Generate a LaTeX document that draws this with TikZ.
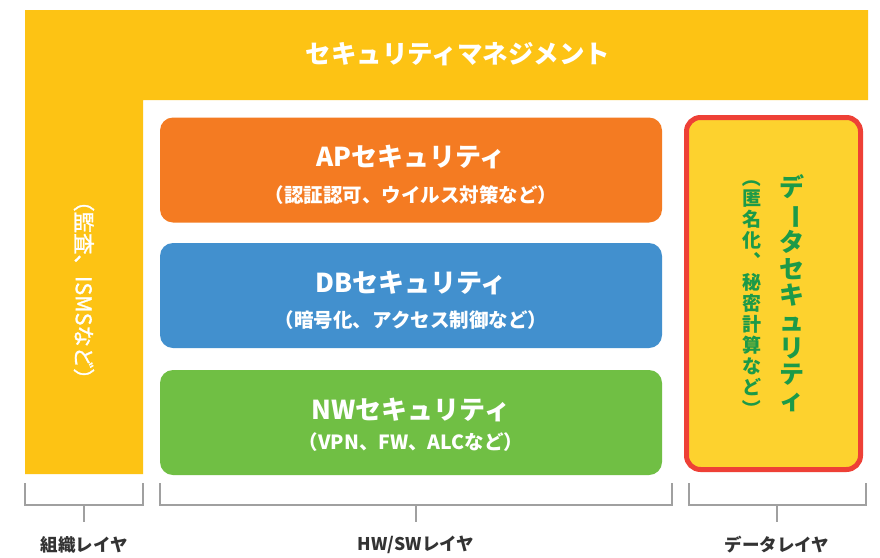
\documentclass[tikz,border=0pt]{standalone}
\usepackage{fontspec}
\usepackage{graphicx}
\setmainfont{Noto Sans CJK JP}
\newfontfamily\jpmed[FakeBold=1.3]{Noto Sans CJK JP}
\definecolor{lyellow}{HTML}{FDC314}
\definecolor{dyellow}{HTML}{FDD22E}
\definecolor{dred}{HTML}{EE4036}
\definecolor{dgreen}{HTML}{1C9A48}
\definecolor{aporange}{HTML}{F47B22}
\definecolor{dbblue}{HTML}{4290CE}
\definecolor{nwgreen}{HTML}{70BF44}
\definecolor{brgray}{HTML}{A0A0A0}
\definecolor{lbl}{HTML}{333333}
\newcommand{\vrot}[1]{\rotatebox[origin=c]{-90}{#1}}
\tikzset{
  secbox/.style={rounded corners=13pt, minimum width=502pt, minimum height=105pt, inner sep=0pt},
  boxtitle/.style={text=white, font={\fontsize{26}{30}\selectfont\bfseries}, inner sep=0pt},
  boxsub/.style={text=white, font={\fontsize{19.5}{22}\selectfont\bfseries}, inner sep=0pt},
  brline/.style={draw=brgray, line width=1.4pt},
  layerlbl/.style={text=lbl, font={\fontsize{17.5}{20}\selectfont\bfseries}, inner sep=0pt}
}
\begin{document}
\begin{tikzpicture}[x=1pt,y=-1pt]
\useasboundingbox (0,0) rectangle (880,557);
\fill[white] (0,0) rectangle (880,557);
% L-shaped management band
\fill[lyellow] (25,10) -- (868,10) -- (868,100) -- (143,100) -- (143,474) -- (25,474) -- cycle;
\node[text=white, font={\fontsize{25.5}{30}\selectfont\bfseries}, inner sep=0pt] (mgmt) at (458,54) {セキュリティマネジメント};
\node[text=white, font={\fontsize{21.5}{24}\selectfont\jpmed}, rotate=-90, inner sep=0pt] (audit) at (84,290) {（監査、ISMSなど）};
% HW/SW boxes
\node[secbox, fill=aporange] (ap) at (411,170) {};
\node[boxtitle] (aptitle) at (411,157) {APセキュリティ};
\node[boxsub] (apsub) at (411,195) {（認証認可、ウイルス対策など）};
\node[secbox, fill=dbblue] (db) at (411,295.5) {};
\node[boxtitle] (dbtitle) at (411,283) {DBセキュリティ};
\node[boxsub] (dbsub) at (411,320) {（暗号化、アクセス制御など）};
\node[secbox, fill=nwgreen] (nw) at (411,422.5) {};
\node[boxtitle] (nwtitle) at (411,410) {NWセキュリティ};
\node[boxsub] (nwsub) at (411,442) {（VPN、FW、ALCなど）};
% data security box
\node[draw=dred, line width=5pt, fill=dyellow, rounded corners=14pt, minimum width=174pt, minimum height=352pt, inner sep=0pt] (data) at (773.5,293.5) {};
\node[text=dgreen, align=center, inner sep=0pt, font={\fontsize{25}{26.3}\selectfont\bfseries}] (datatitle) at (792,293.5)
 {デ\\\vrot{ー}\\タ\\セ\\キ\\ュ\\リ\\テ\\ィ};
\node[text=dgreen, align=center, inner sep=0pt, font={\fontsize{19}{21}\selectfont\bfseries}] (datasub) at (752,293)
 {\vrot{（}\\匿\\名\\化\\︑\\秘\\密\\計\\算\\な\\ど\\\vrot{）}};
% brackets
\draw[brline] (25,483) -- (25,505) -- (143,505) -- (143,483);
\draw[brline] (84,505) coordinate (s1) -- (84,522) coordinate (e1);
\draw[brline] (160,483) -- (160,505) -- (672,505) -- (672,483);
\draw[brline] (416,505) coordinate (s2) -- (416,522) coordinate (e2);
\draw[brline] (689,483) -- (689,505) -- (866,505) -- (866,483);
\draw[brline] (777,505) coordinate (s3) -- (777,522) coordinate (e3);
\node[layerlbl] (l1) at (84,545) {組織レイヤ};
\node[layerlbl] (l2) at (416,545) {HW/SWレイヤ};
\node[layerlbl] (l3) at (777,545) {データレイヤ};
\end{tikzpicture}
\end{document}
